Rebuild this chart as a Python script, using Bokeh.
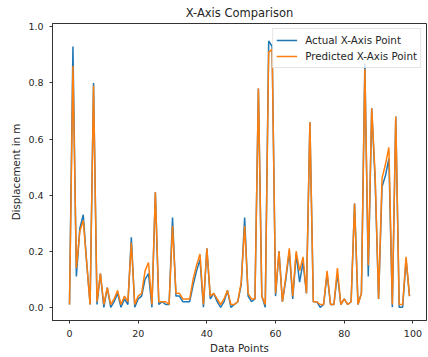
from bokeh.plotting import figure
from bokeh.models import Range1d, FixedTicker, PrintfTickFormatter, Legend, LegendItem
from bokeh.embed import file_html
from bokeh.resources import INLINE

data_points = list(range(100))

actual_x = [
    0.01, 0.93, 0.11, 0.28, 0.33, 0.16, 0.01, 0.80, 0.01, 0.12,
    0.00, 0.07, 0.00, 0.02, 0.05, 0.00, 0.03, 0.01, 0.25, 0.00,
    0.03, 0.04, 0.10, 0.12, 0.00, 0.41, 0.01, 0.02, 0.01, 0.01,
    0.32, 0.04, 0.04, 0.02, 0.02, 0.02, 0.08, 0.13, 0.17, 0.00,
    0.21, 0.03, 0.05, 0.02, 0.00, 0.02, 0.06, 0.00, 0.01, 0.02,
    0.08, 0.32, 0.04, 0.02, 0.03, 0.78, 0.04, 0.00, 0.95, 0.93,
    0.04, 0.20, 0.02, 0.10, 0.20, 0.03, 0.19, 0.09, 0.16, 0.05,
    0.66, 0.02, 0.02, 0.00, 0.01, 0.12, 0.01, 0.01, 0.12, 0.01,
    0.03, 0.01, 0.02, 0.37, 0.01, 0.05, 0.87, 0.11, 0.71, 0.45,
    0.03, 0.43, 0.47, 0.53, 0.00, 0.68, 0.00, 0.00, 0.17, 0.04,
]

predicted_x = [
    0.01, 0.86, 0.14, 0.27, 0.31, 0.16, 0.01, 0.79, 0.02, 0.12,
    0.01, 0.07, 0.01, 0.03, 0.06, 0.01, 0.04, 0.02, 0.23, 0.01,
    0.04, 0.05, 0.13, 0.16, 0.01, 0.41, 0.02, 0.02, 0.02, 0.01,
    0.29, 0.05, 0.05, 0.03, 0.03, 0.03, 0.10, 0.15, 0.19, 0.01,
    0.21, 0.04, 0.05, 0.03, 0.01, 0.03, 0.06, 0.01, 0.01, 0.02,
    0.09, 0.29, 0.05, 0.03, 0.03, 0.78, 0.04, 0.01, 0.91, 0.92,
    0.05, 0.20, 0.02, 0.11, 0.21, 0.04, 0.20, 0.13, 0.18, 0.05,
    0.66, 0.02, 0.02, 0.01, 0.01, 0.13, 0.01, 0.01, 0.14, 0.01,
    0.03, 0.01, 0.02, 0.37, 0.01, 0.05, 0.85, 0.15, 0.71, 0.47,
    0.03, 0.46, 0.51, 0.57, 0.01, 0.68, 0.01, 0.01, 0.18, 0.04,
]

x_ticks = [0, 20, 40, 60, 80, 100]
y_ticks = [0.0, 0.2, 0.4, 0.6, 0.8, 1.0]

FONT = "DejaVu Sans"
TXT = "#262626"

p = figure(width=428, height=357, output_backend="svg", toolbar_location=None,
           x_range=Range1d(-4.95, 103.95), y_range=Range1d(-0.047, 1.012),
           title="X-Axis Comparison",
           min_border_left=52, min_border_right=2, min_border_top=22, min_border_bottom=37)

p.title.align = "center"
p.title.text_font = FONT
p.title.text_font_size = "11.5px"
p.title.text_font_style = "normal"
p.title.text_color = TXT
p.title.standoff = 7

p.background_fill_color = "white"
p.border_fill_color = "white"
p.outline_line_color = "#333333"
p.outline_line_width = 1
p.xgrid.visible = False
p.ygrid.visible = False

for ax in (p.xaxis[0], p.yaxis[0]):
    ax.axis_line_color = "#333333"
    ax.major_tick_line_color = "#333333"
    ax.major_tick_out = 3
    ax.major_tick_in = 0
    ax.minor_tick_line_color = None
    ax.major_label_text_font = FONT
    ax.major_label_text_font_size = "9.5px"
    ax.major_label_text_color = TXT
    ax.axis_label_text_font = FONT
    ax.axis_label_text_font_size = "10.3px"
    ax.axis_label_text_font_style = "normal"
    ax.axis_label_text_color = TXT

p.xaxis.ticker = FixedTicker(ticks=x_ticks)
p.yaxis.ticker = FixedTicker(ticks=y_ticks)
p.yaxis.formatter = PrintfTickFormatter(format="%.1f")
p.xaxis.axis_label = "Data Points"
p.yaxis.axis_label = "Displacement in m"
p.xaxis.major_label_standoff = 6
p.yaxis.major_label_standoff = 6
p.xaxis.axis_label_standoff = 2
p.yaxis.axis_label_standoff = 3

r1 = p.line(data_points, actual_x, line_color="#1f77b4", line_width=1.5)
r2 = p.line(data_points, predicted_x, line_color="#ff7f0e", line_width=1.5)

legend = Legend(items=[LegendItem(label="Actual X-Axis Point", renderers=[r1]),
                       LegendItem(label="Predicted X-Axis Point", renderers=[r2])],
                location="top_right")
legend.label_text_font = FONT
legend.label_text_font_size = "10.3px"
legend.label_text_color = TXT
legend.background_fill_alpha = 0.8
legend.border_line_color = "#cccccc"
legend.margin = 5
legend.padding = 3
legend.spacing = 0
legend.label_height = 16
legend.glyph_height = 16
legend.glyph_width = 21
legend.label_standoff = 8
p.add_layout(legend)

open("out.html", "w").write(file_html(p, INLINE))
